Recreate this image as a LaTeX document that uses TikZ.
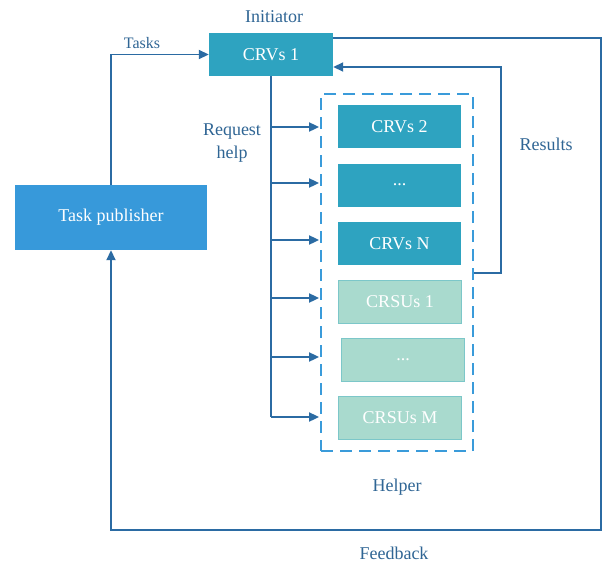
\documentclass[tikz,border=0pt]{standalone}
\usepackage{fontspec}
\setmainfont{Liberation Serif}
\usetikzlibrary{arrows.meta}
\definecolor{crv}{HTML}{2EA3C0}
\definecolor{pub}{HTML}{3799DA}
\definecolor{crsu}{HTML}{A9DACE}
\definecolor{crsuedge}{HTML}{7CC7C9}
\definecolor{wire}{HTML}{2B6BA3}
\definecolor{lbl}{HTML}{2F6594}
\definecolor{grpblue}{HTML}{3A9BDA}
\begin{document}
\begin{tikzpicture}[x=1pt,y=-1pt,
  every node/.style={font=\fontsize{18}{22}\selectfont},
  box/.style={minimum width=123pt,minimum height=43pt,inner sep=0pt,text=white},
  crvbox/.style={box,fill=crv},
  crsubox/.style={box,fill=crsu,draw=crsuedge,line width=0.8pt},
  lab/.style={text=lbl},
  wireline/.style={draw=wire,line width=1.8pt},
  arr/.style={wireline,-{Triangle[length=10pt,width=9pt]}}]
\useasboundingbox (0,0) rectangle (602,565);

% nodes
\node[crvbox,minimum width=124pt] (c1) at (271,54.5) {CRVs 1};
\node[box,fill=pub,minimum width=192pt,minimum height=65pt] (pub) at (111,217.5) {Task publisher};
\node[crvbox] (c2) at (399.5,126.5) {CRVs 2};
\node[crvbox] (cd) at (399.5,185) {...};
\node[crvbox] (cn) at (399.5,243.5) {CRVs N};
\node[crsubox] (s1) at (400,301.5) {CRSUs 1};
\node[crsubox] (sd) at (403,359.5) {...};
\node[crsubox] (sm) at (400,417.5) {CRSUs M};

% helper group
\node[draw=grpblue,line width=1.8pt,dash pattern=on 12pt off 7pt,
      minimum width=152pt,minimum height=357pt,inner sep=0pt] (grp) at (397,272.5) {};
\coordinate (grpR) at (grp.east |- 0,273);

% labels
\node[lab] (init) at (274,17) {Initiator};
\node[lab,font=\fontsize{16}{18}\selectfont] (tasks) at (142,43) {Tasks};
\node[lab,align=center,font=\fontsize{18}{23}\selectfont] (req) at (232,143) {Request\\help};
\node[lab] (res) at (546,144) {Results};
\node[lab] (help) at (397,487) {Helper};
\node[lab] (fb) at (394,553) {Feedback};

% task dispatch
\draw[arr] (pub.north) |- (c1.west);

% feedback loop
\coordinate (fbA) at (601,38);
\coordinate (fbB) at (601,530);
\draw[arr] (c1.east |- fbA) -- (fbA) -- (fbB) -| (pub.south);

% results
\coordinate (rsA) at (501,273);
\coordinate (rsB) at (501,67);
\draw[arr] (grpR) -- (rsA) -- (rsB) -- (c1.east |- rsB);

% request help bus
\coordinate (busB) at (271,417);
\draw[wireline] (c1.south) -- (busB);
\foreach \y in {127,183,240,298,357,417}{
  \draw[arr] (271,\y) -- ([xshift=-1pt]grp.west |- 0,\y);
}
\end{tikzpicture}
\end{document}
